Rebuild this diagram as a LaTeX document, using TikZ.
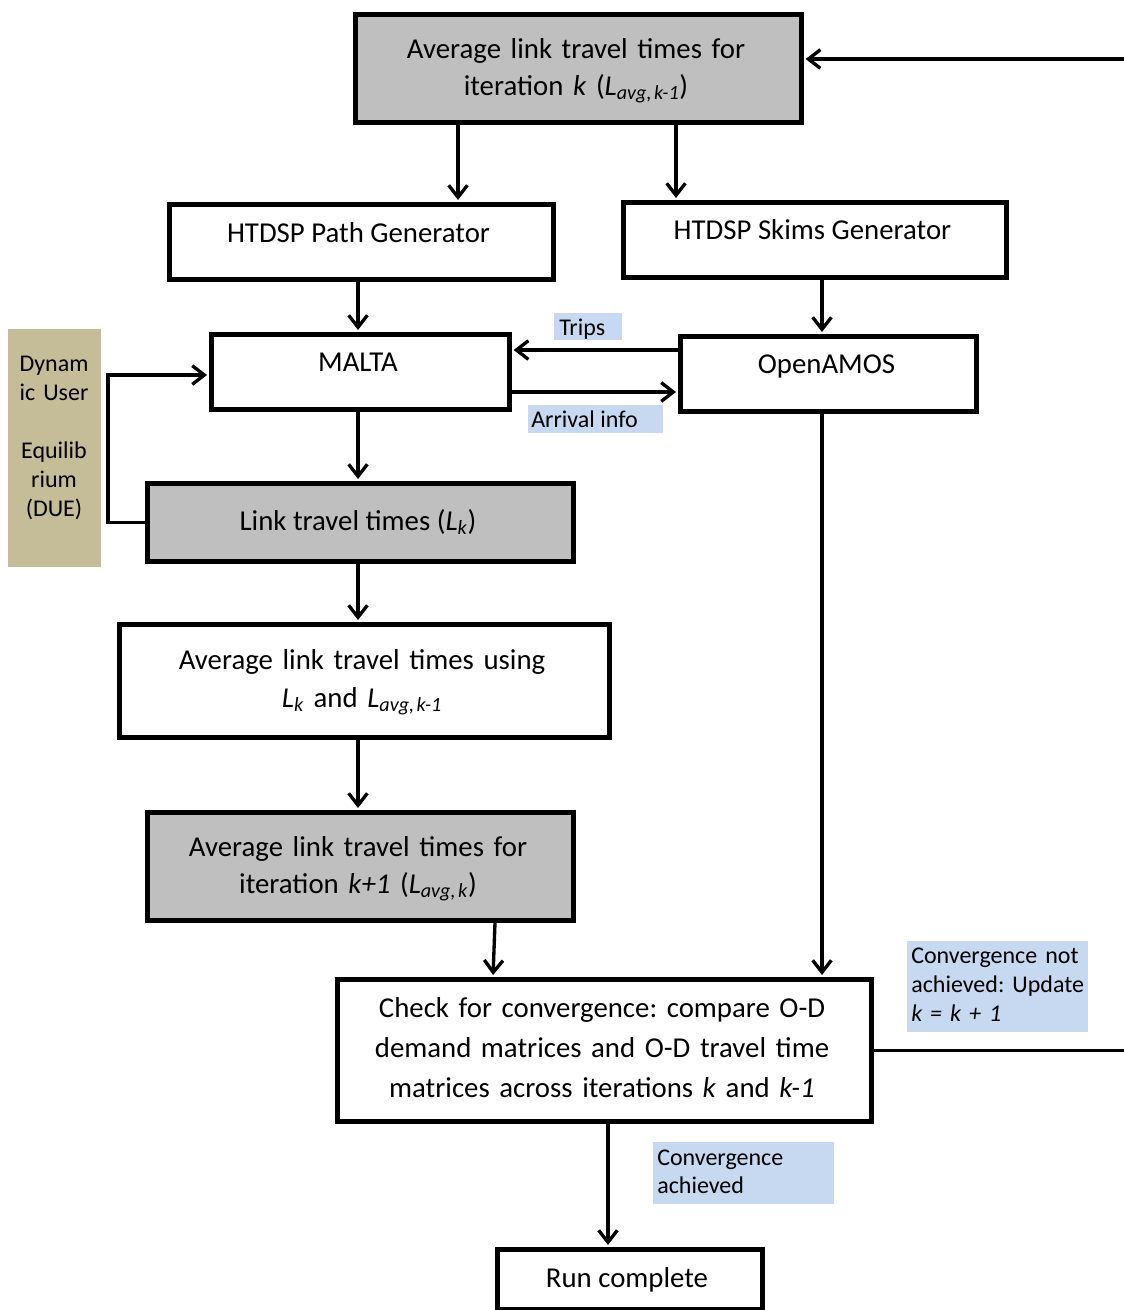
\documentclass[tikz,border=0pt]{standalone}
\usepackage{fontspec}
\setmainfont{Carlito}
\usetikzlibrary{arrows.meta}
\definecolor{boxgray}{HTML}{BFBFBF}
\definecolor{duetan}{HTML}{C4BD97}
\definecolor{lblblue}{HTML}{C6D9F1}
\newcommand{\Lsub}[1]{\textit{L}\textsubscript{\textit{#1}}}
\frenchspacing
\begin{document}
\begin{tikzpicture}[x=0.75pt,y=-0.75pt,
  box/.style={draw, line width=3.5pt, rectangle, anchor=north west, inner sep=0pt, fill=white},
  gbox/.style={box, fill=boxgray},
  lbl/.style={fill=lblblue, rectangle, anchor=north west, inner sep=0pt},
  txt/.style={align=center, inner sep=0pt, anchor=base, font=\frenchspacing\fontsize{21.6}{27.75}\selectfont},
  ltxt/.style={align=left, inner sep=0pt, anchor=base west, font=\frenchspacing\fontsize{18}{21.75}\selectfont},
  arr/.style={line width=2.5pt, -{Straight Barb[length=9pt,width=14pt]}, shorten >=1.5pt}]
\useasboundingbox (0,0) rectangle (1124,1310);

% label backgrounds
\node[lbl, minimum width=51pt, minimum height=20.25pt] (tripsbg) at (554,313) {};
\node[lbl, minimum width=101.25pt, minimum height=21pt] (arrbg) at (528,405) {};
\node[lbl, minimum width=135.75pt, minimum height=68.25pt] (convnotbg) at (907,941) {};
\node[lbl, minimum width=135.75pt, minimum height=46.5pt] (convachbg) at (653,1142) {};
\node[fill=duetan, rectangle, anchor=north west, inner sep=0pt, minimum width=69.75pt, minimum height=178.5pt] (due) at (8,329) {};

% boxes
\node[gbox, minimum width=334.5pt, minimum height=81pt] (avgk) at (353,12) {};
\node[box, minimum width=288pt, minimum height=56.25pt] (pathgen) at (167,202) {};
\node[box, minimum width=287.25pt, minimum height=56.25pt] (skims) at (621,200) {};
\node[box, minimum width=223.5pt, minimum height=56.25pt] (malta) at (209,332) {};
\node[box, minimum width=222pt, minimum height=56.25pt] (openamos) at (678,334) {};
\node[gbox, minimum width=319.5pt, minimum height=58.5pt] (linktt) at (145,481) {};
\node[box, minimum width=367.5pt, minimum height=84.75pt] (avgusing) at (117,622) {};
\node[gbox, minimum width=319.5pt, minimum height=81pt] (avgk1) at (145,810) {};
\node[box, minimum width=400.5pt, minimum height=106.5pt] (check) at (335,977) {};
\node[box, minimum width=198.75pt, minimum height=45pt] (run) at (495,1247) {};

% texts
\node[txt, text width=330pt] (avgkt) at (576,58) {Average link travel times for\\iteration \textit{k} (\Lsub{avg,\hspace{0.12em}k-1})};
\node[txt] (pathgent) at (358.5,242) {HTDSP Path Generator};
\node[txt] (skimst) at (812.5,239) {HTDSP Skims Generator};
\node[txt] (maltat) at (358,371) {MALTA};
\node[txt] (openamost) at (826.5,373) {OpenAMOS};
\node[txt] (linkttt) at (358,530) {Link travel times (\Lsub{k})};
\node[txt, text width=360pt, font=\frenchspacing\fontsize{21.6}{28.5}\selectfont] (avgusingt) at (362,669) {Average link travel times using\\\Lsub{k} and \Lsub{avg,\hspace{0.12em}k-1}};
\node[txt, text width=315pt] (avgk1t) at (358,856) {Average link travel times for\\iteration \textit{k+1} (\Lsub{avg,\hspace{0.12em}k})};
\node[txt, text width=395pt, font=\frenchspacing\fontsize{21.6}{30}\selectfont] (checkt) at (602,1017) {Check for convergence: compare O-D\\demand matrices and O-D travel time\\matrices across iterations \textit{k} and \textit{k-1}};
\node[txt] (runt) at (627,1287) {Run complete};
\node[txt, text width=68pt, font=\frenchspacing\fontsize{18}{21.75}\selectfont] (duet) at (54,371) {Dynam\\ic User\\[21.75pt]Equilib\\rium\\(DUE)};

\node[ltxt] (tripst) at (559,335) {Trips};
\node[ltxt] (arrt) at (531,427) {Arrival info};
\node[ltxt, text width=134pt] (convnott) at (911,963) {Convergence not\\achieved: Update\\\textit{k = k + 1}};
\node[ltxt, text width=134pt, font=\frenchspacing\fontsize{18}{21}\selectfont] (convacht) at (657,1165) {Convergence\\achieved};

% coordinates for connectors
\coordinate (xa) at (458,0);
\coordinate (xb) at (676,0);
\coordinate (xc) at (358,0);
\coordinate (xd) at (822,0);
\coordinate (xe) at (495,0);
\coordinate (xf) at (493,0);
\coordinate (xg) at (608,0);
\coordinate (ya) at (0,350);
\coordinate (yb) at (0,392);
\coordinate (loop) at (108,375);
\coordinate (ret) at (1140,59);

% connectors
\draw[arr] (avgk.south -| xa) -- (pathgen.north -| xa);
\draw[arr] (avgk.south -| xb) -- (skims.north -| xb);
\draw[arr] (pathgen.south -| xc) -- (malta.north -| xc);
\draw[arr] (skims.south -| xd) -- (openamos.north -| xd);
\draw[arr] (openamos.west |- ya) -- (malta.east |- ya);
\draw[arr] (malta.east |- yb) -- (openamos.west |- yb);
\draw[arr] (linktt.west) -| (loop) -- (malta.west |- loop);
\draw[arr] (malta.south -| xc) -- (linktt.north -| xc);
\draw[arr] (linktt.south -| xc) -- (avgusing.north -| xc);
\draw[arr] (avgusing.south -| xc) -- (avgk1.north -| xc);
\draw[arr] (avgk1.south -| xe) -- (check.north -| xf);
\draw[arr] (openamos.south -| xd) -- (check.north -| xd);
\draw[arr] (check.south -| xg) -- (run.north -| xg);
\draw[arr] (check.east) -| (ret) -- (avgk.east |- ret);
\end{tikzpicture}
\end{document}
